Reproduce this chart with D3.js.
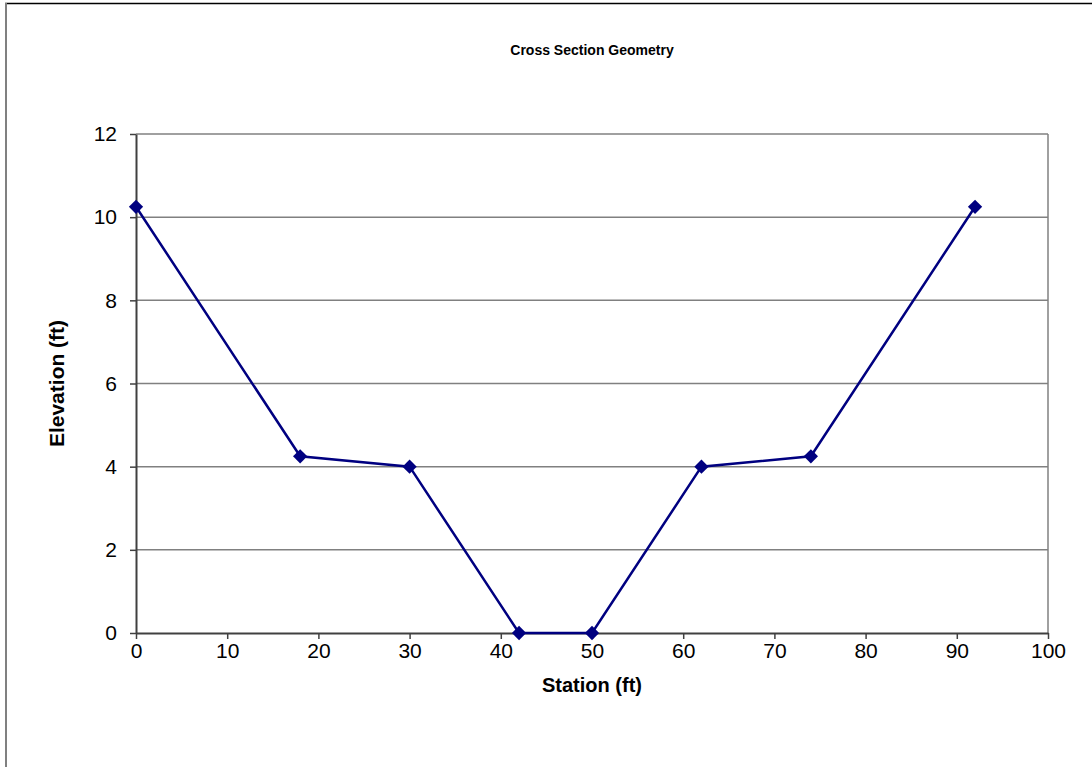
<!DOCTYPE html>
<html>
<head>
<meta charset="utf-8">
<script src="https://cdn.jsdelivr.net/npm/d3@7"></script>
<style>
  html, body { margin: 0; padding: 0; background: #fff; }
  svg { display: block; }
  text { font-family: "Liberation Sans", Arial, sans-serif; fill: #000; }
</style>
</head>
<body>
<svg id="chart" width="1092" height="767"></svg>
<script>
// Channel cross section: station (ft) vs. elevation (ft)
const stations   = [0, 18, 30, 42, 50, 62, 74, 92];
const elevations = [10.25, 4.25, 4, 0, 0, 4, 4.25, 10.25];
const xTicks = [0, 10, 20, 30, 40, 50, 60, 70, 80, 90, 100];
const yTicks = [0, 2, 4, 6, 8, 10, 12];

const chartTitle = "Cross Section Geometry";
const xTitle = "Station (ft)";
const yTitle = "Elevation (ft)";

const svg = d3.select("#chart");
const W = 1092, H = 767;
const plot = { left: 136, right: 1048, top: 134, bottom: 633 };

// outer frame (top and left edges of the chart box)
svg.append("line").attr("x1", 5).attr("x2", W).attr("y1", 3.5).attr("y2", 3.5)
  .attr("stroke", "#000").attr("stroke-width", 1.5);
svg.append("line").attr("x1", 6).attr("x2", 6).attr("y1", 3).attr("y2", H)
  .attr("stroke", "#808080").attr("stroke-width", 2);

const x = d3.scaleLinear().domain([0, 100]).range([plot.left, plot.right]);
const y = d3.scaleLinear().domain([0, 12]).range([plot.bottom, plot.top]);

// horizontal gridlines
svg.append("g").selectAll("line").data(yTicks.filter(d => d > 0)).join("line")
  .attr("x1", plot.left).attr("x2", plot.right)
  .attr("y1", d => y(d)).attr("y2", d => y(d))
  .attr("stroke", "#808080").attr("stroke-width", 1.5);

// right edge of plot area
svg.append("line").attr("x1", plot.right).attr("x2", plot.right)
  .attr("y1", plot.top).attr("y2", plot.bottom)
  .attr("stroke", "#808080").attr("stroke-width", 1.5);

// x axis
const xAxis = svg.append("g").attr("transform", `translate(0,${plot.bottom})`)
  .call(d3.axisBottom(x).tickValues(xTicks).tickSize(6).tickPadding(4).tickSizeOuter(0));
// y axis
const yAxis = svg.append("g").attr("transform", `translate(${plot.left},0)`)
  .call(d3.axisLeft(y).tickValues(yTicks).tickSize(6).tickPadding(13).tickSizeOuter(0));

[xAxis, yAxis].forEach(a => {
  a.select(".domain").attr("stroke", "#404040").attr("stroke-width", 2);
  a.selectAll(".tick line").attr("stroke", "#404040").attr("stroke-width", 1.5);
  a.selectAll(".tick text").attr("font-family", "Liberation Sans, Arial, sans-serif")
    .attr("font-size", 21).attr("fill", "#000");
});

// profile line
const line = d3.line().x((d, i) => x(stations[i])).y(d => y(d));
svg.append("path").datum(elevations).attr("d", line)
  .attr("fill", "none").attr("stroke", "#000080").attr("stroke-width", 2.5);

// diamond markers
svg.append("g").selectAll("path").data(elevations).join("path")
  .attr("transform", (d, i) => `translate(${x(stations[i])},${y(d)})`)
  .attr("d", d3.symbol(d3.symbolDiamond2, 130)())
  .attr("fill", "#000080");

// titles
svg.append("text").attr("x", (plot.left + plot.right) / 2).attr("y", 55)
  .attr("text-anchor", "middle").attr("font-weight", "bold").attr("font-size", 14)
  .text(chartTitle);
svg.append("text").attr("x", (plot.left + plot.right) / 2).attr("y", 692)
  .attr("text-anchor", "middle").attr("font-weight", "bold").attr("font-size", 20)
  .text(xTitle);
svg.append("text").attr("transform", `translate(64,${(plot.top + plot.bottom) / 2}) rotate(-90)`)
  .attr("text-anchor", "middle").attr("font-weight", "bold").attr("font-size", 21)
  .text(yTitle);
</script>
</body>
</html>
